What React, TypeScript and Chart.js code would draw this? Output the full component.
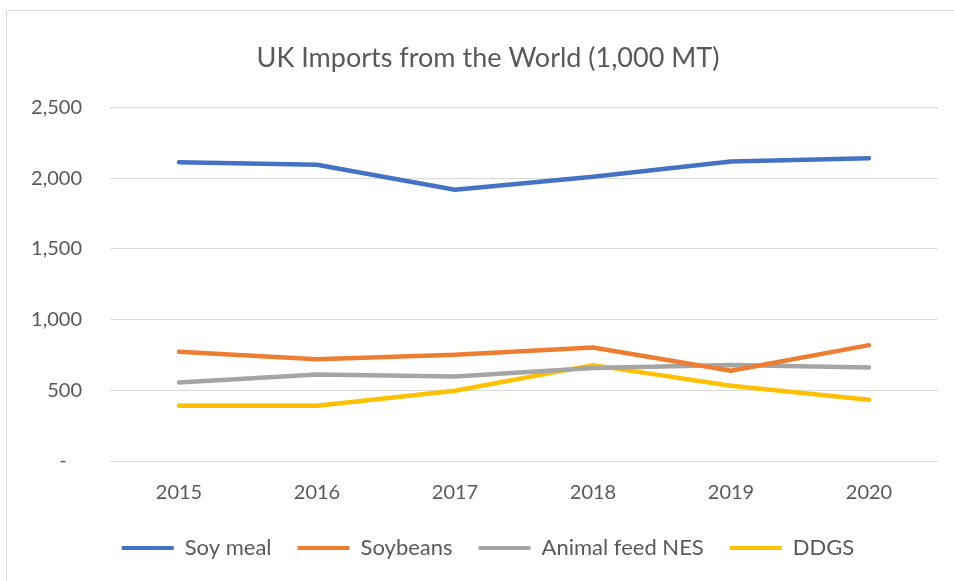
import React, { useEffect, useRef } from "react";
import { Chart, registerables } from "chart.js";

Chart.register(...registerables);

const chartTitle = "UK Imports from the World (1,000 MT)";
const years = ["2015", "2016", "2017", "2018", "2019", "2020"];
const soyMeal = [2113, 2094, 1918, 2010, 2118, 2141];
const soybeans = [772, 720, 751, 803, 638, 819];
const animalFeed = [555, 612, 598, 657, 678, 661];
const ddgs = [390, 390, 497, 678, 532, 433];
const yMin = 0;
const yMax = 2500;
const yStep = 500;

const seriesNames = ["Soy meal", "Soybeans", "Animal feed NES", "DDGS"];
const seriesColors = ["#4472C4", "#ED7D31", "#A5A5A5", "#FFC000"];
const seriesValues = [soyMeal, soybeans, animalFeed, ddgs];

const FONT = "Lato, Carlito, Calibri, 'Noto Sans', sans-serif";
const TEXT = "#595959";

// lets the y tick labels extend into the left padding without being clipped
const widenYLabelArea = {
  id: "widenYLabelArea",
  afterLayout(chart: any) {
    const y = chart.scales.y;
    if (y) y.left = 0;
  },
};

export default function App() {
  const ref = useRef<HTMLCanvasElement | null>(null);

  useEffect(() => {
    if (!ref.current) return;
    const chart = new Chart(ref.current, {
      type: "line",
      data: {
        labels: years,
        datasets: seriesValues.map((vals, i) => ({
          label: seriesNames[i],
          data: vals,
          borderColor: seriesColors[i],
          backgroundColor: seriesColors[i],
          borderWidth: 4.5,
          borderCapStyle: "round" as const,
          borderJoinStyle: "round" as const,
          pointRadius: 0,
          pointHoverRadius: 0,
          tension: 0,
          fill: false,
        })),
      },
      options: {
        animation: false,
        responsive: false,
        maintainAspectRatio: false,
        layout: { padding: { left: 38, right: 16, top: 0, bottom: 12 } },
        scales: {
          x: {
            offset: true,
            grid: { display: false, drawTicks: false },
            border: { display: false },
            ticks: {
              color: TEXT,
              font: { family: FONT, size: 20 },
              padding: 20,
            },
            afterFit: (s: any) => {
              s.height = 50;
            },
          },
          y: {
            min: yMin,
            max: yMax,
            grid: { color: "#d9d9d9", lineWidth: 1, drawTicks: false },
            border: { display: false },
            ticks: {
              stepSize: yStep,
              color: TEXT,
              font: { family: FONT, size: 20 },
              padding: 28,
              callback: (v: any) =>
                Number(v) === 0 ? "-   " : Number(v).toLocaleString("en-US"),
            },
            afterFit: (s: any) => {
              s.width = 72;
            },
          },
        },
        plugins: {
          tooltip: { enabled: false },
          title: {
            display: true,
            text: chartTitle,
            color: TEXT,
            font: { family: FONT, size: 27, weight: "normal" as const },
            padding: { top: 42, bottom: 33 },
          },
          legend: {
            position: "bottom",
            labels: {
              color: TEXT,
              font: { family: FONT, size: 22 },
              boxWidth: 52,
              boxHeight: 4,
              padding: 26,
              generateLabels: (c: any) =>
                c.data.datasets.map((d: any, i: number) => ({
                  text: d.label,
                  fillStyle: d.borderColor,
                  strokeStyle: d.borderColor,
                  lineWidth: 0,
                  fontColor: TEXT,
                  hidden: false,
                  datasetIndex: i,
                })),
            },
          },
        },
      },
      plugins: [widenYLabelArea],
    });
    return () => chart.destroy();
  }, []);

  return (
    <div style={{ position: "fixed", left: 0, top: 0, width: 954, height: 581, overflow: "hidden", background: "#fff" }}>
      <div
        style={{
          position: "absolute",
          left: 6,
          top: 10,
          width: 980,
          height: 620,
          border: "1px solid #d9d9d9",
          boxSizing: "border-box",
        }}
      />
      <canvas ref={ref} width={954} height={581} style={{ position: "absolute", left: 0, top: 0, width: 954, height: 581 }} />
    </div>
  );
}
